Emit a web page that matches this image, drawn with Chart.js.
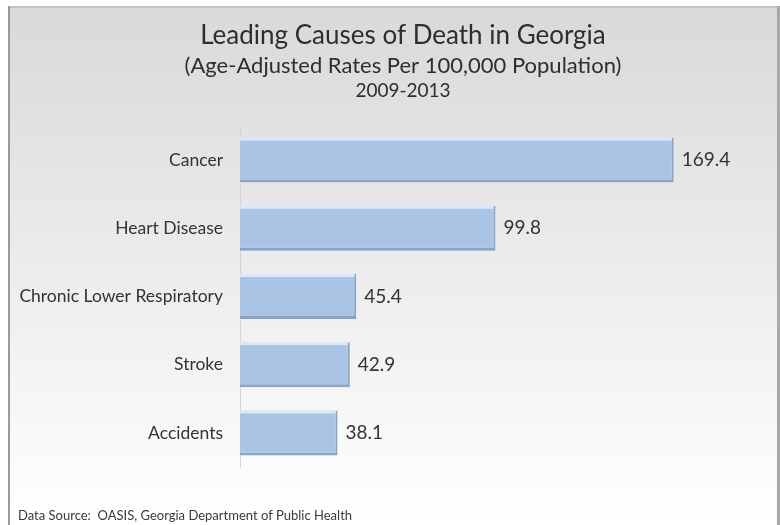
<!DOCTYPE html>
<html>
<head>
<meta charset="utf-8">
<script src="https://cdn.jsdelivr.net/npm/chart.js@4.4.1/dist/chart.umd.min.js"></script>
<style>
  html, body { margin: 0; padding: 0; background: #ffffff; }
  #wrap { width: 780px; height: 525px; }
</style>
</head>
<body>
<div id="wrap"><canvas id="causeChart" width="780" height="525"></canvas></div>
<script>
// данные
const causes = ['Cancer', 'Heart Disease', 'Chronic Lower Respiratory', 'Stroke', 'Accidents'];
const rates = [169.4, 99.8, 45.4, 42.9, 38.1];
const titleText = 'Leading Causes of Death in Georgia';
const subtitleText = '(Age-Adjusted Rates Per 100,000 Population)';
const yearsText = '2009-2013';
const sourceNote = 'Data Source:  OASIS, Georgia Department of Public Health';

const FONT = 'Lato, "Open Sans", sans-serif';
const TITLE_X = 403; // заголовок смещён вправо относительно панели

// фон панели
const panelBackground = {
    id: 'panelBackground',
    beforeDraw(chart) {
        const ctx = chart.ctx;
        ctx.save();
        ctx.fillStyle = '#ffffff';
        ctx.fillRect(0, 0, chart.width, chart.height);
        const grad = ctx.createLinearGradient(0, 6, 0, chart.height);
        grad.addColorStop(0, '#d9d9d9');
        grad.addColorStop(0.55, '#eeeeee');
        grad.addColorStop(1, '#ffffff');
        ctx.fillStyle = grad;
        ctx.fillRect(8, 6, chart.width - 8, chart.height - 6);
        // рамка
        ctx.fillStyle = '#c4c4c4';
        ctx.fillRect(8, 6, chart.width - 8, 2);
        ctx.fillStyle = '#9a9a9a';
        ctx.fillRect(8, 6, 2, chart.height - 6);
        ctx.fillStyle = '#a8a8a8';
        ctx.fillRect(chart.width - 3, 6, 3, chart.height - 6);
        ctx.restore();
    }
};

// блик на столбцах, подписи значений, заголовки и источник
const valueLabels = {
    id: 'valueLabels',
    afterDatasetsDraw(chart) {
        const ctx = chart.ctx;
        const meta = chart.getDatasetMeta(0);
        ctx.save();
        meta.data.forEach((bar) => {
            const top = bar.y - bar.height / 2;
            ctx.fillStyle = 'rgba(225, 236, 248, 0.9)';
            ctx.fillRect(bar.base, top, bar.x - bar.base - 2, 3);
        });
        ctx.font = '19px ' + FONT;
        ctx.fillStyle = '#333333';
        ctx.textBaseline = 'middle';
        ctx.textAlign = 'left';
        meta.data.forEach((bar, i) => {
            ctx.fillText(rates[i].toFixed(1), bar.x + 8, bar.y);
        });
        // заголовки
        ctx.textAlign = 'center';
        ctx.fillStyle = '#2e2e2e';
        ctx.font = '26px ' + FONT;
        ctx.fillText(titleText, TITLE_X, 36);
        ctx.font = '22px ' + FONT;
        ctx.fillText(subtitleText, TITLE_X, 66);
        ctx.font = '19px ' + FONT;
        ctx.fillText(yearsText, TITLE_X, 91);
        // источник
        ctx.textAlign = 'left';
        ctx.font = '13px ' + FONT;
        ctx.fillStyle = '#3a3a3a';
        ctx.fillText(sourceNote, 18, 516);
        ctx.restore();
    }
};

const ctx = document.getElementById('causeChart').getContext('2d');
new Chart(ctx, {
    type: 'bar',
    data: {
        labels: causes,
        datasets: [{
            data: rates,
            backgroundColor: '#aac4e5',
            borderColor: '#8aa3c6',
            borderWidth: { top: 0, right: 2, bottom: 3, left: 0 },
            borderSkipped: false,
            categoryPercentage: 1,
            barPercentage: 0.66
        }]
    },
    options: {
        indexAxis: 'y',
        responsive: false,
        animation: false,
        layout: { padding: { top: 126, right: 28, bottom: 58, left: 0 } },
        scales: {
            x: {
                display: false,
                min: 0,
                max: 200
            },
            y: {
                afterFit: (scale) => { scale.width = 240; },
                grid: { display: false, drawTicks: false },
                border: { display: true, color: '#d4d4d4', width: 1 },
                ticks: {
                    padding: 17,
                    color: '#333333',
                    font: { family: FONT, size: 17.5 }
                }
            }
        },
        plugins: {
            legend: { display: false },
            tooltip: { enabled: false },
            title: { display: false },
            subtitle: { display: false }
        }
    },
    plugins: [panelBackground, valueLabels]
});
</script>
</body>
</html>
